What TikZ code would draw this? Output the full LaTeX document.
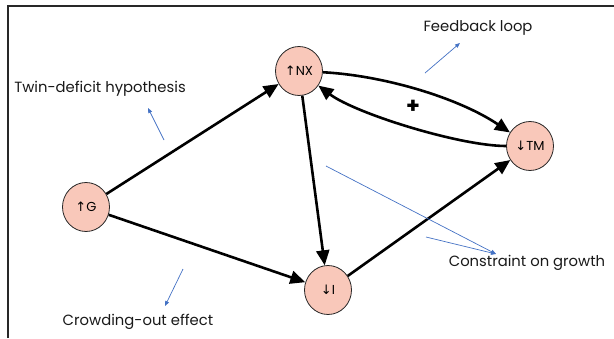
\documentclass[tikz,border=0pt]{standalone}
\usepackage{fontspec}
\setmainfont{Poppins}
\newfontfamily\arrowfont{DejaVu Sans}
\usetikzlibrary{arrows.meta,shapes.geometric}
\definecolor{nodefill}{RGB}{249,200,186}
\definecolor{noteblue}{RGB}{68,114,196}
\definecolor{framecol}{RGB}{40,40,40}
\tikzset{
  var/.style={ellipse,draw=black!85,line width=0.8pt,fill=nodefill,minimum width=47pt,minimum height=49pt,inner sep=0pt,font=\fontsize{13}{15}\selectfont},
  link/.style={line width=2.6pt,black,-{Triangle[length=15pt,width=13pt]}},
  note/.style={noteblue,line width=0.7pt,-{Triangle[length=5pt,width=4pt]}},
  label/.style={font=\fontsize{14.8}{17}\selectfont,inner sep=0pt,text=black!90}
}
\newcommand{\upa}{{\arrowfont\char"2191}}
\newcommand{\dna}{{\arrowfont\char"2193}}
\begin{document}
\begin{tikzpicture}[x=1pt,y=1pt]
\useasboundingbox (0,0) rectangle (614,-338);
\draw[framecol,line width=1.5pt] (8,-338) -- (8,-6) -- (614,-6);
\node[var] (G) at (86,-207) {\upa G};
\node[var] (NX) at (299,-71) {\upa NX};
\node[var] (TM) at (530,-146) {\dna TM};
\node[var] (I) at (328,-290) {\dna I};
\draw[link] (G) -- (NX);
\draw[link] (G) -- (I);
\draw[link] (NX) -- (I);
\draw[link] (I) -- (TM);
\draw[link] (NX) to[out=-3,in=146,looseness=0.8] (TM);
\draw[link] (TM) to[out=180,in=-37,looseness=0.6] (NX);
\node[font=\fontsize{22}{24}\selectfont\bfseries] (plus) at (413,-107) {+};
\node[label] (twin) at (100,-89) {Twin-deficit hypothesis};
\node[label] (feed) at (478,-28) {Feedback loop};
\node[label] (cons) at (527,-263) {Constraint on growth};
\node[label] (crowd) at (138,-322) {Crowding-out effect};
\coordinate (t1) at (164,-140); \coordinate (t2) at (148,-108);
\coordinate (f1) at (425,-73); \coordinate (f2) at (460,-43);
\coordinate (c1) at (326,-166); \coordinate (c2) at (426,-237); \coordinate (c3) at (496,-254);
\coordinate (w1) at (183,-269); \coordinate (w2) at (165,-306);
\draw[note] (t1) -- (t2);
\draw[note] (f1) -- (f2);
\draw[note] (c1) -- (c3);
\draw[note] (c2) -- (c3);
\draw[note] (w1) -- (w2);
\end{tikzpicture}
\end{document}
